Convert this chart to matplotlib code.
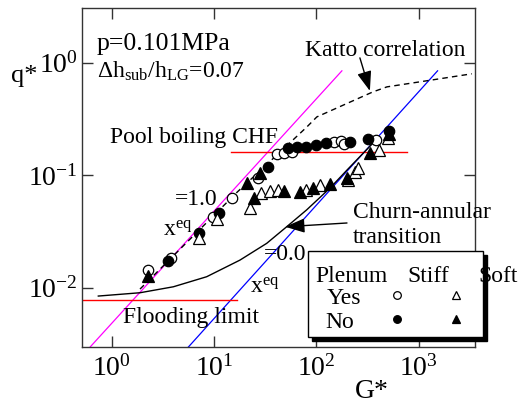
import matplotlib
matplotlib.use("Agg")
import matplotlib.pyplot as plt
from matplotlib.patches import Rectangle
from matplotlib.lines import Line2D

plt.rcParams['font.family'] = ['Liberation Serif', 'DejaVu Serif']
plt.rcParams['mathtext.fontset'] = 'custom'
plt.rcParams['mathtext.rm'] = 'Liberation Serif'
plt.rcParams['mathtext.it'] = 'Liberation Serif:italic'

# data (G*, q*)
g_open_circ = [2.26, 3.79, 9.76, 15.0, 26.8, 41.1, 48.2, 57.6, 148, 173, 186, 381]
q_open_circ = [0.0144, 0.0184, 0.0425, 0.0627, 0.0944, 0.154, 0.157, 0.161, 0.197, 0.201, 0.189, 0.206]
g_fill_circ = [3.55, 7.12, 11.2, 33.6, 52.7, 64.5, 78.9, 98.9, 124, 212, 318, 511]
q_fill_circ = [0.0173, 0.0306, 0.0461, 0.118, 0.1745, 0.178, 0.178, 0.185, 0.193, 0.197, 0.210, 0.247]
g_open_tri = [7.12, 10.7, 22.4, 28.7, 35.2, 42.1, 78.9, 108, 203, 238, 254, 407, 499]
q_open_tri = [0.0277, 0.0408, 0.0511, 0.0695, 0.0724, 0.0739, 0.0739, 0.0818, 0.0906, 0.1067, 0.1158, 0.1675, 0.214]
g_fill_tri = [2.26, 20.9, 24.5, 28.1, 48.2, 69.0, 92.5, 135.6, 199, 333, 511]
q_fill_tri = [0.0127, 0.0853, 0.0627, 0.1046, 0.0724, 0.0709, 0.0769, 0.0835, 0.0944, 0.157, 0.232]

# Katto correlation
g_katto = [1.89, 16.8, 80.7, 101, 357, 489, 1374, 3296]
q_katto = [0.00973, 0.0706, 0.268, 0.329, 0.549, 0.608, 0.702, 0.794]

# churn-annular transition
g_churn = [0.74, 1.89, 4.0, 8.47, 17.9, 32.7, 51.2, 80.2, 136, 199, 399]
q_churn = [0.00844, 0.00903, 0.0102, 0.01253, 0.0176, 0.0248, 0.0348, 0.0491, 0.0769, 0.111, 0.214]

# x_eq = 1.0 and x_eq = 0.0 lines
g_xeq1 = [0.614, 177.4]
q_xeq1 = [0.00297, 0.844]
g_xeq0 = [5.6, 1527]
q_xeq0 = [0.00297, 0.844]

# pool boiling CHF and flooding limit
g_chf = [14.6, 760]
q_chf = [0.160, 0.160]
g_flood = [0.509, 16.6]
q_flood = [0.00782, 0.00782]

xticks = [1, 10, 100, 1000]
yticks = [0.01, 0.1, 1]
xticklabels = [r'$10^{0}$', r'$10^{1}$', r'$10^{2}$', r'$10^{3}$']
yticklabels = [r'$10^{-2}$', r'$10^{-1}$', r'$10^{0}$']

W, H = 527, 408


def fpos(px, py):
    return px / W, 1 - py / H


fig = plt.figure(figsize=(W / 100, H / 100), dpi=100)
ax = fig.add_axes([0.155, 0.150, 0.746, 0.830])
ax.set_xscale('log')
ax.set_yscale('log')
ax.set_xlim(0.509, 3530)
ax.set_ylim(0.00299, 3.04)

ax.plot(g_xeq1, q_xeq1, color='#ff00ff', lw=0.9)
ax.plot(g_xeq0, q_xeq0, color='#0000ff', lw=0.9)
ax.plot(g_chf, q_chf, color='#ff0000', lw=1.0)
ax.plot(g_flood, q_flood, color='#ff0000', lw=1.0)
ax.plot(g_churn, q_churn, color='black', lw=1.0)
ax.plot(g_katto, q_katto, color='black', lw=1.0, dashes=(4, 3))

ms = 7.5
ax.plot(g_open_circ, q_open_circ, 'o', ms=ms, mfc='white', mec='black', mew=0.9, ls='none')
ax.plot(g_fill_circ, q_fill_circ, 'o', ms=ms, mfc='black', mec='black', mew=0.9, ls='none')
ax.plot(g_open_tri, q_open_tri, '^', ms=ms + 1, mfc='white', mec='black', mew=0.9, ls='none')
ax.plot(g_fill_tri, q_fill_tri, '^', ms=ms + 1, mfc='black', mec='black', mew=0.9, ls='none')

ax.set_xticks(xticks)
ax.set_xticklabels(xticklabels)
ax.set_yticks(yticks)
ax.set_yticklabels(yticklabels)
ax.minorticks_off()
ax.tick_params(which='major', direction='in', length=8, width=1, top=True, right=True,
               labelsize=20, color='#333333')
ax.tick_params(axis='x', pad=6)
ax.tick_params(axis='y', pad=3)
for s in ax.spines.values():
    s.set_color('#333333')
    s.set_linewidth(1.0)

# axis labels
fig.text(*fpos(24, 76), 'q*', fontsize=19, ha='center', va='center')
fig.text(*fpos(372, 392), 'G*', fontsize=20, ha='center', va='center')

# annotations
fs = 17
fig.text(*fpos(97, 44), 'p=0.101MPa', fontsize=18.5, ha='left', va='center')
fig.text(*fpos(97, 71), r'Δh$_{\rm sub}$/h$_{\rm LG}$=0.07', fontsize=17, ha='left', va='center')
fig.text(*fpos(305, 50), 'Katto correlation', fontsize=fs, ha='left', va='center')
fig.text(*fpos(110, 138), 'Pool boiling CHF', fontsize=fs, ha='left', va='center')
fig.text(*fpos(175, 199), '=1.0', fontsize=fs, ha='left', va='center')
fig.text(*fpos(163, 230), r'x$^{\rm eq}$', fontsize=fs, ha='left', va='center')
fig.text(*fpos(264, 255), '=0.0', fontsize=fs, ha='left', va='center')
fig.text(*fpos(250, 287), r'x$^{\rm eq}$', fontsize=fs, ha='left', va='center')
fig.text(*fpos(353, 213), 'Churn-annular', fontsize=fs, ha='left', va='center')
fig.text(*fpos(353, 237), 'transition', fontsize=fs, ha='left', va='center')
fig.text(*fpos(123, 318), 'Flooding limit', fontsize=fs, ha='left', va='center')

arrow = dict(arrowstyle='-|>,head_length=0.6,head_width=0.22', mutation_scale=20,
             color='black', lw=1.0, shrinkA=0, shrinkB=0)
ax.annotate('', xy=(333, 0.56), xytext=(266, 1.10), arrowprops=arrow)
ax.annotate('', xy=(49.4, 0.0348), xytext=(199, 0.0376), arrowprops=arrow)

# hand-made legend box with shadow
x0, y0 = fpos(308, 337)
x1, y1 = fpos(483, 251)
dx, dy = 4 / W, 4 / H
fig.add_artist(Rectangle((x0 + dx, y0 - dy), x1 - x0, y1 - y0, transform=fig.transFigure,
                         facecolor='black', edgecolor='black', zorder=5))
fig.add_artist(Rectangle((x0, y0), x1 - x0, y1 - y0, transform=fig.transFigure,
                         facecolor='white', edgecolor='black', lw=1.0, zorder=6))
fig.text(*fpos(315, 276), 'Plenum', fontsize=fs, ha='left', va='center', zorder=7)
fig.text(*fpos(407, 276), 'Stiff', fontsize=fs, ha='left', va='center', zorder=7)
fig.text(*fpos(478, 276), 'Soft', fontsize=fs, ha='left', va='center', zorder=7)
fig.text(*fpos(327, 299), 'Yes', fontsize=fs, ha='left', va='center', zorder=7)
fig.text(*fpos(325, 322), 'No', fontsize=fs, ha='left', va='center', zorder=7)
for (px, py), mk, fc in [((397, 295), 'o', 'white'), ((456, 295), '^', 'white'),
                          ((397, 319), 'o', 'black'), ((456, 319), '^', 'black')]:
    fx, fy = fpos(px, py)
    fig.add_artist(Line2D([fx], [fy], marker=mk, ms=5.5, mfc=fc, mec='black', mew=0.9,
                          ls='none', transform=fig.transFigure, zorder=7))

fig.savefig('out.png', dpi=100)
